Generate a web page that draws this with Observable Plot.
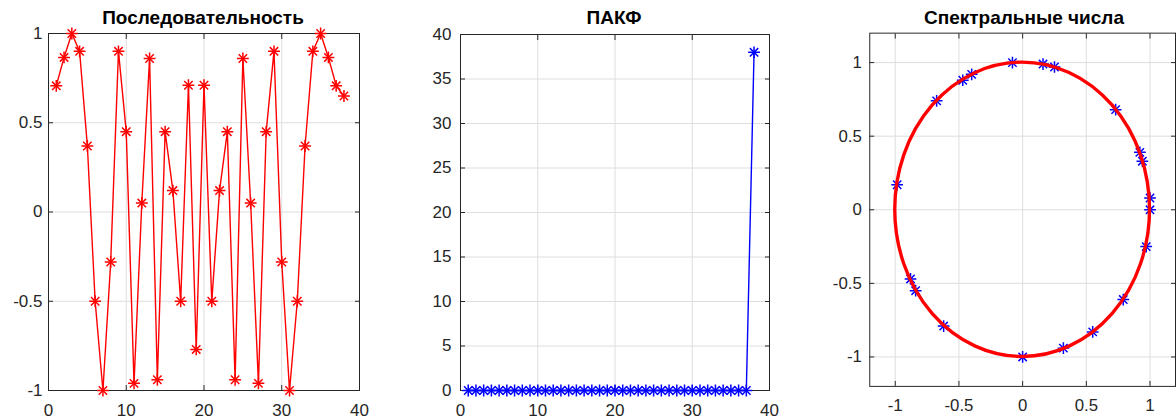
<!DOCTYPE html>
<html><head><meta charset="utf-8">
<script src="https://cdn.jsdelivr.net/npm/d3@7"></script>
<script src="https://cdn.jsdelivr.net/npm/@observablehq/plot@0.6"></script>
<style>
html,body{margin:0;padding:0;background:#fff;width:1176px;height:420px;overflow:hidden;}
#wrap{position:relative;width:1176px;height:420px;overflow:hidden;}
.panel{position:absolute;top:0;}
.title{position:absolute;top:7px;font:bold 19px "Liberation Sans", Arial, sans-serif;line-height:21px;color:#000;white-space:nowrap;transform:translateX(-50%);}
</style></head><body><div id="wrap"></div>
<script>
// ---- Data ----
const titles = ["Последовательность", "ПАКФ", "Спектральные числа"];

// Panel 1: sequence values at n = 1..38
const seqValues = [0.707, 0.866, 1, 0.9, 0.37, -0.5, -1, -0.28, 0.9, 0.45,
  -0.96, 0.05, 0.86, -0.94, 0.45, 0.12, -0.5, 0.71, -0.77, 0.71,
  -0.5, 0.12, 0.45, -0.94, 0.86, 0.05, -0.96, 0.45, 0.9, -0.28,
  -1, -0.5, 0.37, 0.9, 1, 0.866, 0.707, 0.65];

// Panel 2: periodic autocorrelation at lag 1..38
const pacfValues = [0, 0, 0, 0, 0, 0, 0, 0, 0, 0,
  0, 0, 0, 0, 0, 0, 0, 0, 0, 0,
  0, 0, 0, 0, 0, 0, 0, 0, 0, 0,
  0, 0, 0, 0, 0, 0, 0, 38];

// Panel 3: spectral numbers (real, imaginary parts)
const specRe = [-0.985, -0.675, -0.47, -0.40, -0.08, 0.16, 0.25, 0.73, 0.92, 0.94,
  1.0, 1.0, 0.97, 0.79, 0.55, 0.32, 0, -0.62, -0.84, -0.88];
const specIm = [0.17, 0.74, 0.88, 0.92, 1.0, 0.99, 0.97, 0.68, 0.39, 0.33,
  0.08, 0, -0.25, -0.61, -0.83, -0.94, -1, -0.79, -0.55, -0.47];
const unitCircle = [{cx: 0, cy: 0, r: 1}];

// Tick labels
const ticksIndex = [0, 10, 20, 30, 40];
const ticksUnit = [-1, -0.5, 0, 0.5, 1];
const ticksPacf = [0, 5, 10, 15, 20, 25, 30, 35, 40];

// ---- Helpers ----
const seq = seqValues.map((v, i) => ({n: i + 1, v}));
const pacf = pacfValues.map((v, i) => ({n: i + 1, v}));
const spec = specRe.map((re, i) => ({re, im: specIm[i]}));
const fmt = d => String(d);
const FONT = "Liberation Sans, Arial, sans-serif";
const AX = "#262626";

function frameAxes(xt, yt, padY) {
  return [
    Plot.gridX(xt, {stroke: "#dedede", strokeOpacity: 1}),
    Plot.gridY(yt, {stroke: "#dedede", strokeOpacity: 1}),
    Plot.axisX(xt, {anchor: "bottom", tickSize: -5, tickPadding: 18, tickFormat: fmt, label: null, stroke: AX, fill: AX}),
    Plot.axisX(xt, {anchor: "top", tickSize: -5, tickFormat: () => "", label: null, stroke: AX}),
    Plot.axisY(yt, {anchor: "left", tickSize: -5, tickPadding: padY + 5, tickFormat: fmt, label: null, stroke: AX, fill: AX}),
    Plot.axisY(yt, {anchor: "right", tickSize: -5, tickFormat: () => "", label: null, stroke: AX}),
    Plot.frame({stroke: AX, strokeWidth: 1})
  ];
}
function stars(data, opts) {
  return [
    Plot.dot(data, {...opts, symbol: "plus", r: 3.9, strokeWidth: 1.5}),
    Plot.dot(data, {...opts, symbol: "times", r: 3.9, strokeWidth: 1.5})
  ];
}
const style = {fontFamily: FONT, fontSize: "17px", color: AX, background: "transparent", overflow: "visible"};

const wrap = document.getElementById("wrap");
function place(node, left, title, cx) {
  const d = document.createElement("div");
  d.className = "panel"; d.style.left = left + "px";
  d.appendChild(node); wrap.appendChild(d);
  const t = document.createElement("div");
  t.className = "title"; t.style.left = cx + "px"; t.textContent = title;
  wrap.appendChild(t);
}

// Panel 1
const p1 = Plot.plot({
  width: 400, height: 420, marginLeft: 48, marginRight: 41, marginTop: 33, marginBottom: 30,
  style,
  x: {domain: [0, 40]}, y: {domain: [-1, 1]},
  marks: [
    ...frameAxes(ticksIndex, ticksUnit, 6),
    Plot.line(seq, {x: "n", y: "v", stroke: "#ff0000", strokeWidth: 1.4}),
    ...stars(seq, {x: "n", y: "v", stroke: "#ff0000"})
  ]
});
place(p1, 0, titles[0], 203);

// Panel 2
const p2 = Plot.plot({
  width: 400, height: 420, marginLeft: 60, marginRight: 31, marginTop: 34, marginBottom: 30,
  style,
  x: {domain: [0, 40]}, y: {domain: [0, 40]},
  marks: [
    ...frameAxes(ticksIndex, ticksPacf, 9),
    Plot.line(pacf, {x: "n", y: "v", stroke: "#0000ff", strokeWidth: 1.4}),
    ...stars(pacf, {x: "n", y: "v", stroke: "#0000ff"})
  ]
});
place(p2, 400, titles[1], 614);

// Panel 3
const p3 = Plot.plot({
  width: 380, height: 420, marginLeft: 70, marginRight: 1, marginTop: 33, marginBottom: 30,
  style,
  x: {domain: [-1.2, 1.2]}, y: {domain: [-1.2, 1.2]},
  marks: [
    ...frameAxes(ticksUnit, ticksUnit, 8),
    ...stars(spec, {x: "re", y: "im", stroke: "#0000ff"}),
    (index, scales) => {
      const x = scales.x, y = scales.y;
      const g = d3.create("svg:g");
      for (const c of unitCircle) {
        g.append("ellipse")
          .attr("cx", x(c.cx)).attr("cy", y(c.cy))
          .attr("rx", Math.abs(x(c.cx + c.r) - x(c.cx)))
          .attr("ry", Math.abs(y(c.cy + c.r) - y(c.cy)))
          .attr("fill", "none").attr("stroke", "#ff0000").attr("stroke-width", 3.4);
      }
      return g.node();
    }
  ]
});
place(p3, 800, titles[2], 1024);
</script></body></html>
